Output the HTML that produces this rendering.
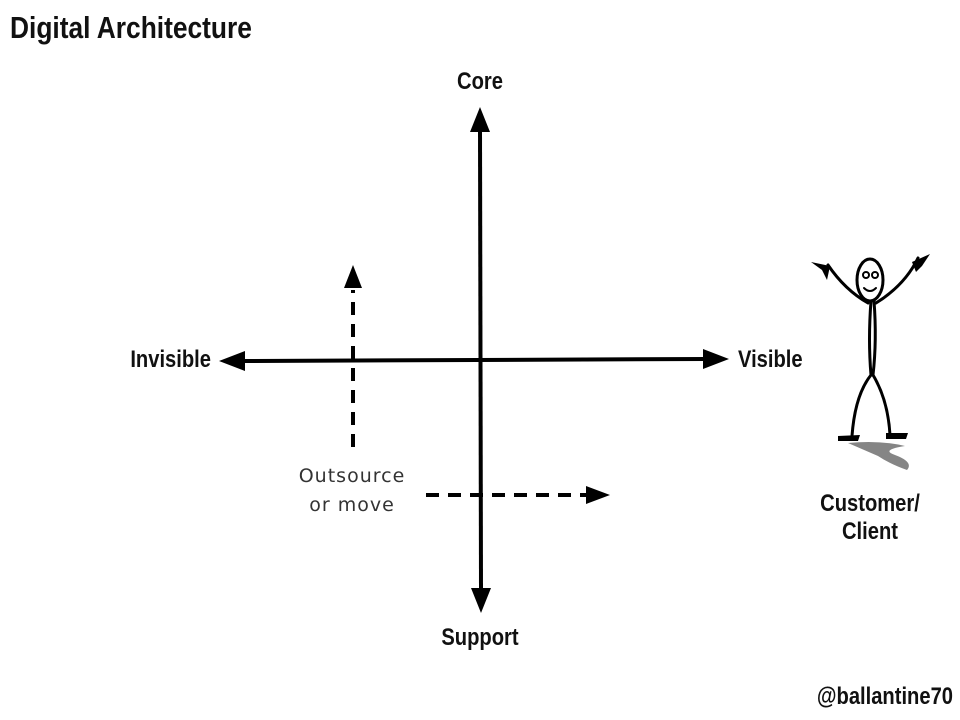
<!DOCTYPE html>
<html><head><meta charset="utf-8">
<style>
body{margin:0;width:960px;height:720px;background:#fff;overflow:hidden;}
svg{display:block}
.c{font-family:"Liberation Sans Narrow","Liberation Sans",sans-serif;font-weight:bold;fill:#111;}
</style></head><body>
<svg width="960" height="720" viewBox="0 0 960 720">
<text class="c" x="10" y="38" font-size="31" transform="scale(0.85 1)" transform-origin="10 38">Digital Architecture</text>
<!-- axes -->
<line x1="480" y1="130" x2="481" y2="590" stroke="#000" stroke-width="4"/>
<polygon points="480,107 470,132 490,132" fill="#000"/>
<polygon points="481,613 471,588 491,588" fill="#000"/>
<line x1="242" y1="361" x2="706" y2="359" stroke="#000" stroke-width="4"/>
<polygon points="219,361 245,351 245,371" fill="#000"/>
<polygon points="729,359 703,349 703,369" fill="#000"/>
<!-- dashed -->
<line x1="353" y1="447" x2="353" y2="290" stroke="#000" stroke-width="4" stroke-dasharray="13,9"/>
<polygon points="353,265 344,288 362,288" fill="#000"/>
<line x1="426" y1="495" x2="588" y2="495" stroke="#000" stroke-width="4" stroke-dasharray="13,9"/>
<polygon points="610,495 586,486 586,504" fill="#000"/>
<text x="352" y="482" font-size="19" text-anchor="middle" fill="#333" font-family="'DejaVu Sans',sans-serif" letter-spacing="1">Outsource</text>
<text x="352" y="511" font-size="19" text-anchor="middle" fill="#333" font-family="'DejaVu Sans',sans-serif" letter-spacing="1">or move</text>
<!-- labels -->
<g class="c" font-size="24">
<text x="480" y="89" text-anchor="middle" transform="scale(0.84 1)" transform-origin="480 89">Core</text>
<text x="211" y="367" text-anchor="end" transform="scale(0.84 1)" transform-origin="211 367">Invisible</text>
<text x="738" y="367" transform="scale(0.84 1)" transform-origin="738 367">Visible</text>
<text x="480" y="645" text-anchor="middle" transform="scale(0.84 1)" transform-origin="480 645">Support</text>
<text x="870" y="511" text-anchor="middle" transform="scale(0.84 1)" transform-origin="870 511">Customer/</text>
<text x="870" y="539" text-anchor="middle" transform="scale(0.84 1)" transform-origin="870 539">Client</text>
<text x="953" y="704" text-anchor="end" transform="scale(0.84 1)" transform-origin="953 704">@ballantine70</text>
</g>
<!-- stick figure -->
<g fill="none" stroke="#000" stroke-width="3" stroke-linecap="round">
<ellipse cx="870" cy="280" rx="13" ry="21"/>
<circle cx="866" cy="275" r="3" stroke-width="2"/>
<circle cx="875" cy="275" r="3" stroke-width="2"/>
<path d="M864 288 Q870 294 876 288" stroke-width="2"/>
<path d="M871 301 Q868 340 871 375 M874 301 Q877 340 873 375"/>
<path d="M868 303 Q845 290 828 265"/>
<path d="M876 303 Q905 285 918 258"/>
<path d="M871 375 Q855 395 852 436"/>
<path d="M873 375 Q888 400 890 435"/>
</g>
<polygon points="811,262 830,266 827,280 822,270" fill="#000"/>
<polygon points="912,262 930,254 922,266 916,272" fill="#000"/>
<path d="M838 436 L860 435 L858 441 L838 441Z" fill="#000"/>
<path d="M886 433 L908 433 L906 439 L886 439Z" fill="#000"/>
<path d="M848 443 Q880 440 905 446 Q880 450 895 455 Q914 462 907 470 Q890 464 878 456" fill="#666" opacity="0.8"/>
</svg>
</body></html>
